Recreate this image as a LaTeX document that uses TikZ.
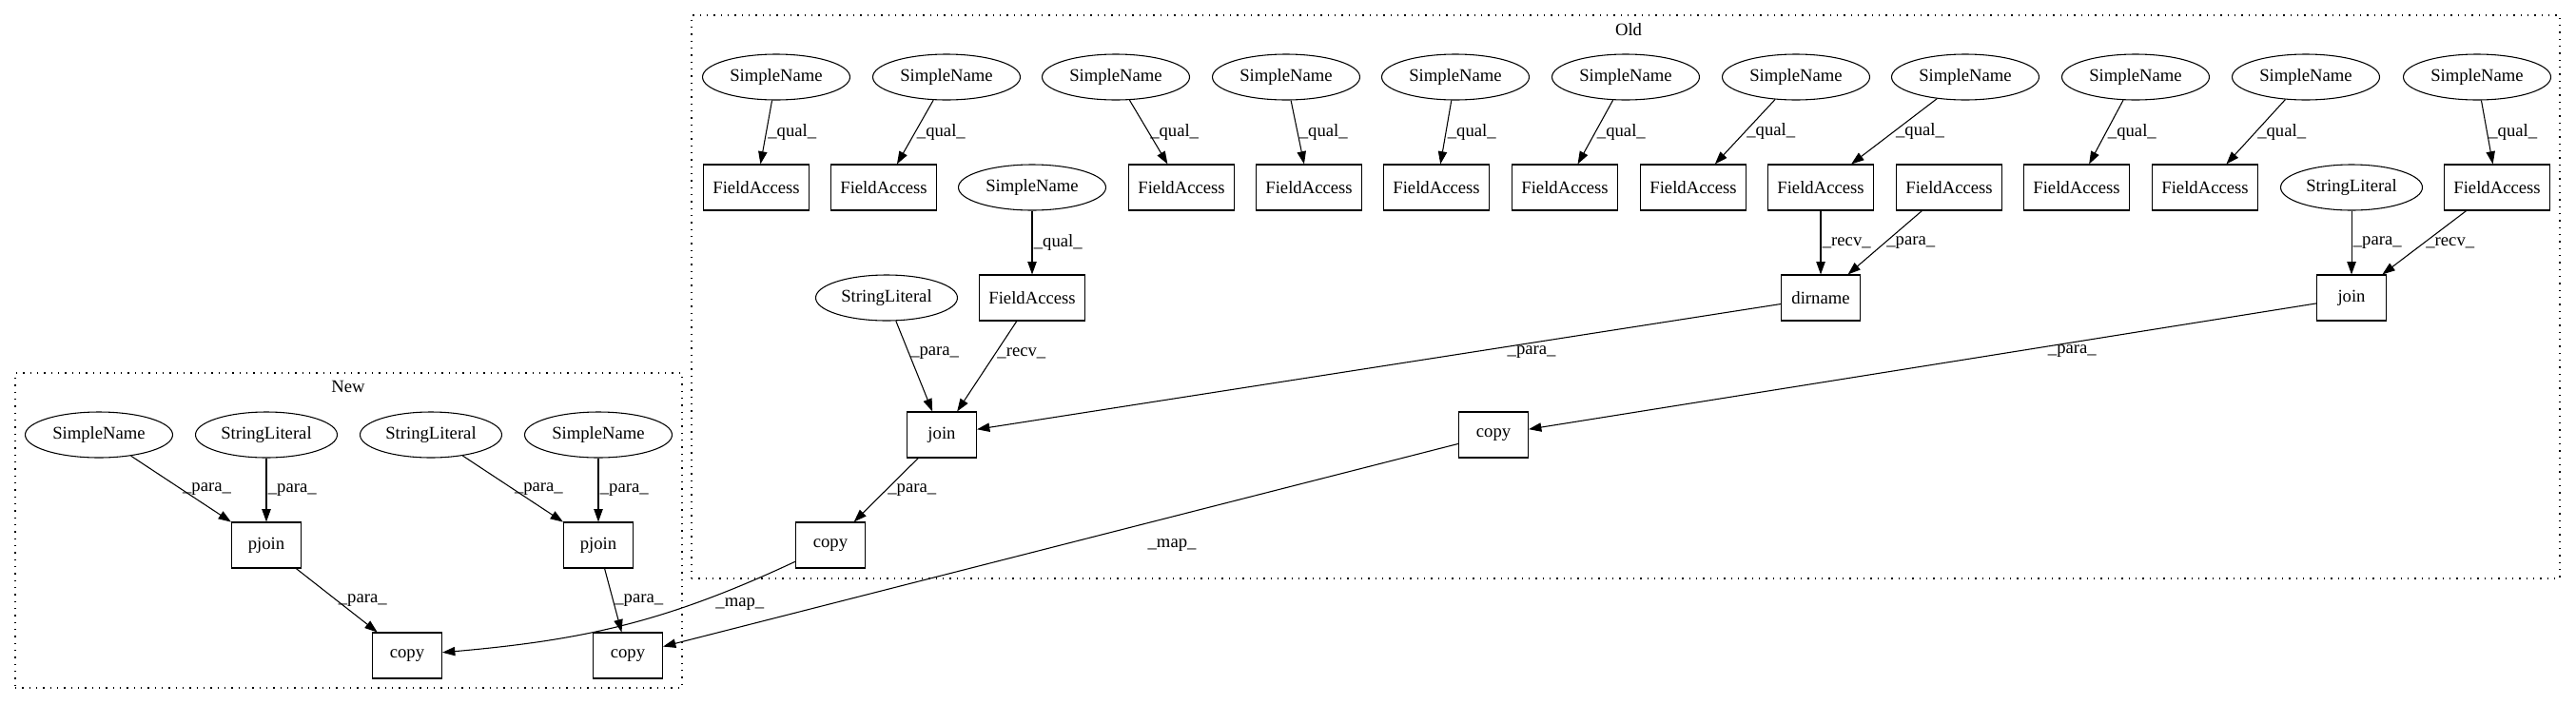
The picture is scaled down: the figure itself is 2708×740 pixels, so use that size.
\documentclass[tikz,border=0pt]{standalone}
\usepackage{fontspec}
\setmainfont{Liberation Serif}
\usetikzlibrary{arrows.meta,shapes.geometric}
\tikzset{
  ast/box/.style={
    rectangle,
    draw=black,
    line width=0.8pt,
    fill=white,
    align=center,
    minimum width=54.75pt,
    minimum height=36pt,
    inner sep=0pt,
    font=\fontsize{14pt}{16pt}\selectfont
  },
  ast/field/.style={ast/box, minimum width=83.25pt},
  ast/ell/.style={
    ellipse,
    draw=black,
    line width=0.8pt,
    fill=white,
    align=center,
    minimum width=116.25pt,
    minimum height=36pt,
    inner sep=0pt,
    font=\fontsize{14pt}{16pt}\selectfont
  },
  ast/lit/.style={ast/ell, minimum width=111.75pt},
  ast/cluster/.style={
    draw=black,
    line width=1pt,
    dash pattern=on 1pt off 4.5pt,
    inner sep=0pt
  },
  ast/edge/.style={-{Triangle[length=10pt,width=7pt]}, line width=0.8pt, draw=black},
  ast/lbl/.style={font=\fontsize{14pt}{16pt}\selectfont, anchor=west, inner sep=1pt},
  ast/title/.style={font=\fontsize{14pt}{16pt}\selectfont}
}

\begin{document}
\begin{tikzpicture}[x=0.75pt,y=-0.75pt]
  \useasboundingbox (0,0) rectangle (2708,740);
  % clusters
  \node[ast/cluster,minimum width=1473pt,minimum height=444pt] (old) at (1709,312) {};
  \node[ast/title] at (1712,31) {Old};
  \node[ast/cluster,minimum width=525.75pt,minimum height=248.25pt] (new) at (366.5,557.5) {};
  \node[ast/title] at (366,406) {New};
  % Old: top row
  \node[ast/ell] (sn1) at (816,81) {SimpleName};
  \node[ast/ell] (sn2) at (995,81) {SimpleName};
  \node[ast/ell] (sn3) at (1173,81) {SimpleName};
  \node[ast/ell] (sn4) at (1352,81) {SimpleName};
  \node[ast/ell] (sn5) at (1530,81) {SimpleName};
  \node[ast/ell] (sn6) at (1709,81) {SimpleName};
  \node[ast/ell] (sn7) at (1888,81) {SimpleName};
  \node[ast/ell] (sn8) at (2066,81) {SimpleName};
  \node[ast/ell] (sn9) at (2245,81) {SimpleName};
  \node[ast/ell] (sn10) at (2424,81) {SimpleName};
  \node[ast/ell] (sn11) at (2604,81) {SimpleName};
  % Old: field accesses
  \node[ast/field] (fa1) at (795,197) {FieldAccess};
  \node[ast/field] (fa2) at (929,197) {FieldAccess};
  \node[ast/ell] (snm) at (1085,197) {SimpleName};
  \node[ast/field] (fa3) at (1242,197) {FieldAccess};
  \node[ast/field] (fa4) at (1376,197) {FieldAccess};
  \node[ast/field] (fa5) at (1510,197) {FieldAccess};
  \node[ast/field] (fa6) at (1645,197) {FieldAccess};
  \node[ast/field] (fa7) at (1780,197) {FieldAccess};
  \node[ast/field] (fa8) at (1914,197) {FieldAccess};
  \node[ast/field] (fa9) at (2049,197) {FieldAccess};
  \node[ast/field] (fa10) at (2183,197) {FieldAccess};
  \node[ast/field] (fa11) at (2318,197) {FieldAccess};
  \node[ast/lit] (slo2) at (2472,197) {StringLiteral};
  \node[ast/field] (fa12) at (2625,197) {FieldAccess};
  % Old: calls
  \node[ast/lit] (slo1) at (932,313) {StringLiteral};
  \node[ast/field] (fam) at (1085,313) {FieldAccess};
  \node[ast/box,minimum width=62.25pt] (dirn) at (1914,313) {dirname};
  \node[ast/box] (joinr) at (2472,313) {join};
  \node[ast/box] (joinl) at (990,457) {join};
  \node[ast/box] (copyr) at (1570,457) {copy};
  \node[ast/box] (copyl) at (873,573) {copy};
  % New
  \node[ast/ell] (snn1) at (104,457) {SimpleName};
  \node[ast/lit] (sln1) at (280,457) {StringLiteral};
  \node[ast/lit] (sln2) at (453,457) {StringLiteral};
  \node[ast/ell] (snn2) at (629,457) {SimpleName};
  \node[ast/box] (pj1) at (280,573) {pjoin};
  \node[ast/box] (pj2) at (629,573) {pjoin};
  \node[ast/box] (cpn1) at (428,689) {copy};
  \node[ast/box] (cpn2) at (660,689) {copy};
  % edges
  \draw[ast/edge] (sn1) -- node[ast/lbl] {\_qual\_} (fa1);
  \draw[ast/edge] (sn2) -- node[ast/lbl] {\_qual\_} (fa2);
  \draw[ast/edge] (sn3) -- node[ast/lbl] {\_qual\_} (fa3);
  \draw[ast/edge] (sn4) -- node[ast/lbl] {\_qual\_} (fa4);
  \draw[ast/edge] (sn5) -- node[ast/lbl] {\_qual\_} (fa5);
  \draw[ast/edge] (sn6) -- node[ast/lbl] {\_qual\_} (fa6);
  \draw[ast/edge] (sn7) -- node[ast/lbl] {\_qual\_} (fa7);
  \draw[ast/edge] (sn8) -- node[ast/lbl] {\_qual\_} (fa8);
  \draw[ast/edge] (sn9) -- node[ast/lbl] {\_qual\_} (fa10);
  \draw[ast/edge] (sn10) -- node[ast/lbl] {\_qual\_} (fa11);
  \draw[ast/edge] (sn11) -- node[ast/lbl] {\_qual\_} (fa12);
  \draw[ast/edge] (snm) -- node[ast/lbl] {\_qual\_} (fam);
  \draw[ast/edge] (fa8) -- node[ast/lbl] {\_recv\_} (dirn);
  \draw[ast/edge] (fa9) -- node[ast/lbl] {\_para\_} (dirn);
  \draw[ast/edge] (slo2) -- node[ast/lbl] {\_para\_} (joinr);
  \draw[ast/edge] (fa12) -- node[ast/lbl] {\_recv\_} (joinr);
  \draw[ast/edge] (slo1) -- node[ast/lbl,pos=0.355] {\_para\_} (joinl);
  \draw[ast/edge] (fam) -- node[ast/lbl,pos=0.355] {\_recv\_} (joinl);
  \draw[ast/edge] (dirn) -- node[ast/lbl,pos=0.31,below=1pt] {\_para\_} (joinl);
  \draw[ast/edge] (joinr) -- node[ast/lbl,pos=0.31,below=1pt] {\_para\_} (copyr);
  \draw[ast/edge] (joinl) -- node[ast/lbl] {\_para\_} (copyl);
  \draw[ast/edge] (copyl) to[out=205,in=5] node[ast/lbl,pos=0.15,below=8pt] {\_map\_} (cpn1);
  \draw[ast/edge] (copyr) -- node[ast/lbl,pos=0.36,below=16pt] {\_map\_} (cpn2);
  \draw[ast/edge] (snn1) -- node[ast/lbl] {\_para\_} (pj1);
  \draw[ast/edge] (sln1) -- node[ast/lbl] {\_para\_} (pj1);
  \draw[ast/edge] (sln2) -- node[ast/lbl] {\_para\_} (pj2);
  \draw[ast/edge] (snn2) -- node[ast/lbl] {\_para\_} (pj2);
  \draw[ast/edge] (pj1) -- node[ast/lbl] {\_para\_} (cpn1);
  \draw[ast/edge] (pj2) -- node[ast/lbl] {\_para\_} (cpn2);
\end{tikzpicture}
\end{document}
